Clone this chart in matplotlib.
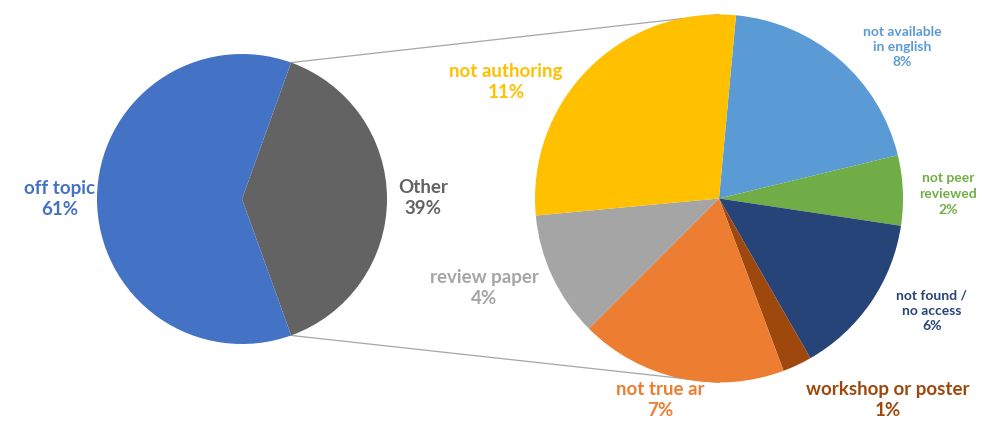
import matplotlib
matplotlib.use("Agg")
import matplotlib.pyplot as plt
import numpy as np

plt.rcParams['font.family'] = ['Lato', 'DejaVu Sans']

# main pie
main_labels = ['Other', 'off topic']
main_values = [39, 61]
main_pct = ['39%', '61%']
main_colors = ['#636363', '#4472C4']

# breakdown of "Other" (share of the whole, in %)
sub_labels = ['not available\nin english', 'not peer\nreviewed', 'not found /\nno access',
              'workshop or poster', 'not true ar', 'review paper', 'not authoring']
sub_values = [7.7, 2.4, 5.6, 1.0, 7.1, 4.3, 10.9]
sub_pct = ['8%', '2%', '6%', '1%', '7%', '4%', '11%']
sub_colors = ['#5B9BD5', '#70AD47', '#264478', '#9E480E', '#ED7D31', '#A5A5A5', '#FFC000']

W, H = 984, 430
fig = plt.figure(figsize=(W / 100, H / 100), dpi=100)
ax = fig.add_axes([0, 0, 1, 1])

# pixel coords, y up
c1, r1 = (242, H - 199), 145
c2, r2 = (719, H - 198.5), 184

half = main_values[0] / sum(main_values) * 180
ax.pie(main_values, colors=main_colors, center=c1, radius=r1, startangle=-half,
       wedgeprops=dict(linewidth=0), frame=True)
ax.pie(sub_values, colors=sub_colors, center=c2, radius=r2, startangle=84.7,
       counterclock=False, wedgeprops=dict(linewidth=0), frame=True)
ax.set_xlim(0, W)
ax.set_ylim(0, H)
ax.set_aspect('equal')
ax.axis('off')

# connector lines
for sgn in (1, -1):
    a = np.deg2rad(sgn * half)
    p1 = (c1[0] + r1 * np.cos(a), c1[1] + r1 * np.sin(a))
    p2 = (c2[0], c2[1] + sgn * r2)
    ax.plot([p1[0], p2[0]], [p1[1], p2[1]], color='#A6A6A6', lw=0.9, zorder=0)

# labels: (x, y) in pixel coords from top, font size, line spacing
main_pos = [(423, 198, 13.5, 1.3), (60, 199, 13.5, 1.3)]
sub_pos = [(902, 47, 10, 1.35), (948, 194, 10, 1.4), (932, 311, 10, 1.35),
           (888, 400, 13.5, 1.3), (660, 400, 13.5, 1.3), (484, 288, 13.5, 1.25),
           (506, 82, 13.5, 1.3)]

for lab, pct, col, (x, y, fs, ls) in zip(main_labels, main_pct, main_colors, main_pos):
    ax.text(x, H - y, f'{lab}\n{pct}', color=col, fontsize=fs, fontweight='bold',
            ha='center', va='center', linespacing=ls)
for lab, pct, col, (x, y, fs, ls) in zip(sub_labels, sub_pct, sub_colors, sub_pos):
    ax.text(x, H - y, f'{lab}\n{pct}', color=col, fontsize=fs, fontweight='bold',
            ha='center', va='center', linespacing=ls)

fig.savefig('out.png', dpi=100)
